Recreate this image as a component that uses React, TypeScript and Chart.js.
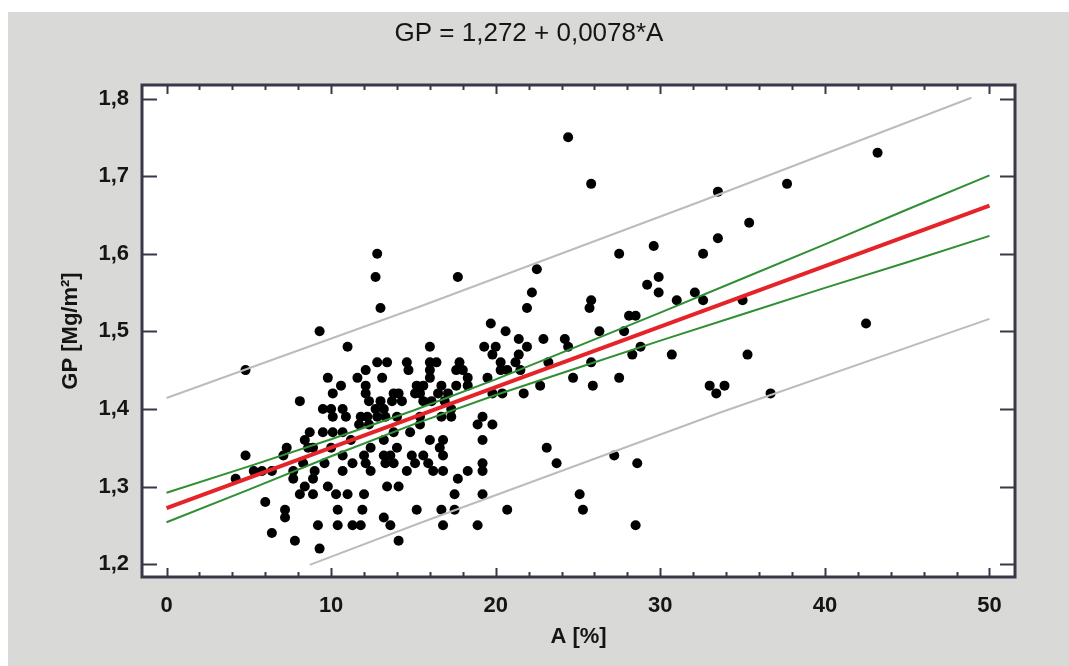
import React, { useEffect, useRef } from "react";
import { Chart, registerables } from "chart.js";

Chart.register(...registerables);

const titleText = "GP = 1,272 + 0,0078*A";
const xAxisTitle = "A [%]";
const yAxisTitle = "GP [Mg/m²]";
const xTickValues = [0, 10, 20, 30, 40, 50];
const yTickValues = [1.2, 1.3, 1.4, 1.5, 1.6, 1.7, 1.8];

const pointsA = [
  4.2, 4.8, 4.8, 5.3, 5.8, 6.4, 6.0, 6.4, 7.1, 7.3,
  7.2, 7.2, 7.7, 7.7, 7.8, 8.1, 8.1, 8.3, 8.4, 8.4,
  8.6, 8.7, 8.9, 8.9, 9.0, 8.9, 9.2, 9.3, 9.3, 9.5,
  9.5, 9.6, 9.8, 9.8, 10.0, 10.0, 10.1, 10.1, 10.1, 10.3,
  10.4, 10.4, 10.6, 10.7, 10.7, 10.7, 10.7, 10.9, 11.0, 11.0,
  11.2, 11.3, 11.3, 11.6, 11.7, 11.8, 11.8, 11.9, 12.0, 12.0,
  12.1, 12.1, 12.1, 12.1, 12.2, 12.3, 12.3, 12.4, 12.4, 12.7,
  12.8, 12.8, 13.0, 12.8, 12.7, 13.0, 13.1, 13.2, 13.2, 13.2,
  13.2, 13.4, 13.3, 13.3, 13.4, 13.6, 13.6, 13.7, 13.8, 13.8,
  13.8, 14.1, 14.0, 14.0, 14.1, 14.1, 14.3, 14.6, 14.6, 14.7,
  14.8, 14.9, 15.1, 15.1, 15.2, 15.2, 15.4, 15.4, 15.4, 15.6,
  15.6, 15.6, 15.9, 16.0, 16.0, 16.0, 16.0, 16.0, 16.1, 16.2,
  16.4, 16.5, 16.7, 16.6, 16.7, 16.7, 16.8, 16.8, 16.8, 16.8,
  16.9, 17.1, 17.3, 17.3, 17.5, 17.5, 17.6, 17.6, 17.8, 17.7,
  18.0, 17.7, 18.3, 18.3, 18.3, 18.9, 18.9, 19.2, 19.2, 19.2,
  19.2, 19.2, 19.3, 19.5, 19.7, 19.8, 19.8, 19.8, 20.0, 20.3,
  20.3, 20.7, 20.4, 20.6, 20.7, 21.2, 21.4, 21.4, 21.5, 21.7,
  21.9, 21.9, 22.2, 22.5, 22.7, 22.9, 23.1, 23.2, 23.7, 24.2,
  24.4, 24.4, 24.7, 25.1, 25.3, 25.7, 25.8, 25.8, 25.8, 25.9,
  26.3, 27.2, 27.5, 27.5, 27.8, 28.1, 28.3, 28.5, 28.5, 28.6,
  28.8, 29.2, 29.6, 29.9, 29.9, 30.7, 31.0, 32.1, 32.6, 32.6,
  33.0, 33.4, 33.5, 33.5, 33.9, 35.0, 35.3, 35.4, 36.7, 37.7,
  42.5, 43.2,
];

const pointsGP = [
  1.31, 1.45, 1.34, 1.32, 1.32, 1.32, 1.28, 1.24, 1.34, 1.35,
  1.27, 1.26, 1.32, 1.31, 1.23, 1.29, 1.41, 1.33, 1.30, 1.36,
  1.35, 1.37, 1.35, 1.31, 1.32, 1.29, 1.25, 1.22, 1.50, 1.40,
  1.37, 1.33, 1.44, 1.30, 1.40, 1.35, 1.42, 1.39, 1.37, 1.29,
  1.27, 1.25, 1.43, 1.40, 1.37, 1.34, 1.32, 1.39, 1.29, 1.48,
  1.36, 1.33, 1.25, 1.44, 1.38, 1.39, 1.25, 1.27, 1.34, 1.29,
  1.45, 1.43, 1.42, 1.33, 1.39, 1.41, 1.38, 1.35, 1.32, 1.40,
  1.46, 1.39, 1.41, 1.60, 1.57, 1.53, 1.44, 1.40, 1.36, 1.34,
  1.26, 1.46, 1.33, 1.39, 1.30, 1.34, 1.25, 1.41, 1.42, 1.37,
  1.33, 1.42, 1.35, 1.39, 1.30, 1.23, 1.41, 1.46, 1.32, 1.45,
  1.37, 1.34, 1.42, 1.33, 1.43, 1.27, 1.42, 1.39, 1.38, 1.43,
  1.41, 1.34, 1.33, 1.48, 1.36, 1.46, 1.45, 1.44, 1.41, 1.32,
  1.46, 1.42, 1.39, 1.35, 1.43, 1.27, 1.36, 1.34, 1.32, 1.25,
  1.41, 1.42, 1.40, 1.39, 1.29, 1.27, 1.45, 1.43, 1.46, 1.31,
  1.45, 1.57, 1.44, 1.32, 1.43, 1.38, 1.25, 1.36, 1.33, 1.32,
  1.39, 1.29, 1.48, 1.44, 1.51, 1.47, 1.42, 1.38, 1.48, 1.46,
  1.45, 1.45, 1.42, 1.50, 1.27, 1.46, 1.49, 1.47, 1.45, 1.42,
  1.53, 1.48, 1.55, 1.58, 1.43, 1.49, 1.35, 1.46, 1.33, 1.49,
  1.48, 1.75, 1.44, 1.29, 1.27, 1.53, 1.54, 1.69, 1.46, 1.43,
  1.50, 1.34, 1.60, 1.44, 1.50, 1.52, 1.47, 1.25, 1.52, 1.33,
  1.48, 1.56, 1.61, 1.57, 1.55, 1.47, 1.54, 1.55, 1.60, 1.54,
  1.43, 1.42, 1.68, 1.62, 1.43, 1.54, 1.47, 1.64, 1.42, 1.69,
  1.51, 1.73,
];

const fitA = [0, 50];
const fitGP = [1.272, 1.662];

const bandA = [0, 5, 10, 15, 20, 25, 30, 35, 40, 45, 50];
const bandUpperGP = [1.292, 1.326, 1.361, 1.398, 1.438, 1.481, 1.524, 1.568, 1.612, 1.657, 1.701];
const bandLowerGP = [1.254, 1.296, 1.339, 1.38, 1.418, 1.453, 1.488, 1.522, 1.556, 1.589, 1.623];

const predUpperA = [0, 15.4, 32.4, 48.9];
const predUpperGP = [1.414, 1.532, 1.667, 1.801];
const predLowerA = [8.7, 15.4, 33.6, 50];
const predLowerGP = [1.199, 1.253, 1.395, 1.516];

const W = 1069;
const H = 666;
const PLOT = { left: 142, top: 85, right: 1015, bottom: 577 };
const FONT = '"Liberation Sans", Arial, sans-serif';
const TEXT = "#151515";

const toXY = (xs: number[], ys: number[]) => xs.map((x, i) => ({ x, y: ys[i] }));
const commaNum = (v: number, d: number) => v.toFixed(d).replace(".", ",");

const framePlugin = {
  id: "frame",
  beforeDatasetsDraw(chart: any) {
    const { ctx, chartArea } = chart;
    ctx.save();
    ctx.fillStyle = "#ffffff";
    ctx.fillRect(chartArea.left, chartArea.top, chartArea.right - chartArea.left, chartArea.bottom - chartArea.top);
    ctx.restore();
  },
  afterDraw(chart: any) {
    const { ctx, chartArea, scales } = chart;
    const { left, right, top, bottom } = chartArea;
    ctx.save();
    ctx.strokeStyle = "#383848";
    ctx.lineWidth = 2;
    ctx.beginPath();
    for (let v = 0; v <= 50; v += 2) {
      const px = Math.round(scales.x.getPixelForValue(v)) + 0.5;
      const len = v % 10 === 0 ? 9 : 5;
      ctx.moveTo(px, bottom);
      ctx.lineTo(px, bottom - len);
      ctx.moveTo(px, top);
      ctx.lineTo(px, top + len);
    }
    yTickValues.forEach((v) => {
      const py = Math.round(scales.y.getPixelForValue(v)) + 0.5;
      ctx.moveTo(left, py);
      ctx.lineTo(left + 15, py);
      ctx.moveTo(right, py);
      ctx.lineTo(right - 15, py);
    });
    ctx.stroke();
    ctx.lineWidth = 3;
    ctx.strokeRect(left, top, right - left, bottom - top);

    ctx.fillStyle = TEXT;
    ctx.font = `26px ${FONT}`;
    ctx.textAlign = "center";
    ctx.textBaseline = "alphabetic";
    ctx.fillText(titleText, 529, 41);
    ctx.restore();
  },
};

export default function App() {
  const canvasRef = useRef<HTMLCanvasElement | null>(null);

  useEffect(() => {
    const canvas = canvasRef.current;
    if (!canvas) return;
    const chart = new Chart(canvas, {
      type: "scatter",
      data: {
        datasets: [
          {
            label: "pred upper",
            data: toXY(predUpperA, predUpperGP),
            showLine: true,
            borderColor: "#bcbcbc",
            borderWidth: 2,
            pointRadius: 0,
            order: 0,
          },
          {
            label: "pred lower",
            data: toXY(predLowerA, predLowerGP),
            showLine: true,
            borderColor: "#bcbcbc",
            borderWidth: 2,
            pointRadius: 0,
            order: 0,
          },
          {
            label: "conf upper",
            data: toXY(bandA, bandUpperGP),
            showLine: true,
            borderColor: "#2f8f34",
            borderWidth: 2,
            pointRadius: 0,
            order: 0,
          },
          {
            label: "conf lower",
            data: toXY(bandA, bandLowerGP),
            showLine: true,
            borderColor: "#2f8f34",
            borderWidth: 2,
            pointRadius: 0,
            order: 0,
          },
          {
            label: "fit",
            data: toXY(fitA, fitGP),
            showLine: true,
            borderColor: "#e5242a",
            borderWidth: 4,
            pointRadius: 0,
            order: 0,
          },
          {
            label: "samples",
            data: toXY(pointsA, pointsGP),
            backgroundColor: "#000000",
            borderWidth: 0,
            pointRadius: 5,
            pointHoverRadius: 5,
            order: 1,
          },
        ],
      },
      options: {
        animation: false,
        responsive: false,
        devicePixelRatio: 1,
        events: [],
        layout: { padding: { top: PLOT.top, right: W - PLOT.right, left: 0, bottom: 0 } },
        plugins: {
          legend: { display: false },
          tooltip: { enabled: false },
          title: { display: false },
        },
        scales: {
          x: {
            type: "linear",
            min: -1.49,
            max: 51.55,
            grid: { display: false, drawTicks: false },
            border: { display: false },
            afterBuildTicks: (s: any) => {
              s.ticks = xTickValues.map((v) => ({ value: v }));
            },
            afterFit: (s: any) => {
              s.height = H - PLOT.bottom;
            },
            ticks: {
              padding: 16,
              color: TEXT,
              autoSkip: false,
              maxRotation: 0,
              font: { family: FONT, size: 22, weight: "bold", lineHeight: 1.2 },
              callback: (v: any) => String(v),
            },
            title: {
              display: true,
              text: xAxisTitle,
              color: TEXT,
              font: { family: FONT, size: 22, weight: "bold", lineHeight: 1.2 },
              padding: { top: 0, bottom: 16 },
            },
          },
          y: {
            type: "linear",
            min: 1.1834,
            max: 1.8174,
            grid: { display: false, drawTicks: false },
            border: { display: false },
            afterBuildTicks: (s: any) => {
              s.ticks = yTickValues.map((v) => ({ value: v }));
            },
            afterFit: (s: any) => {
              s.width = PLOT.left;
            },
            ticks: {
              padding: 13,
              color: TEXT,
              autoSkip: false,
              font: { family: FONT, size: 22, weight: "bold", lineHeight: 1.2 },
              callback: (v: any) => commaNum(Number(v), 1),
            },
            title: {
              display: true,
              text: yAxisTitle,
              color: TEXT,
              font: { family: FONT, size: 22, weight: "bold", lineHeight: 1.2 },
              padding: { top: 58, bottom: 0 },
            },
          },
        },
      },
      plugins: [framePlugin],
    } as any);
    return () => chart.destroy();
  }, []);

  return (
    <div style={{ position: "absolute", left: 0, top: 0, width: W, height: H, background: "#ffffff", overflow: "hidden" }}>
      <div style={{ position: "absolute", left: 8, top: 12, right: 0, bottom: 0, background: "#d9d9d7" }} />
      <canvas
        ref={canvasRef}
        width={W}
        height={H}
        style={{ position: "absolute", left: 0, top: 0, width: W, height: H, display: "block" }}
      />
    </div>
  );
}
